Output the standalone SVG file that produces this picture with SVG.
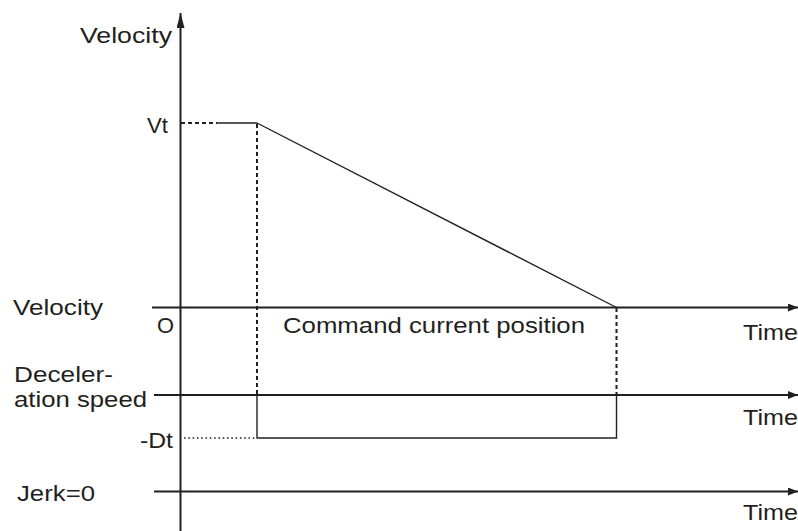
<svg xmlns="http://www.w3.org/2000/svg" width="798" height="531" viewBox="0 0 798 531">
<style>
text{font-family:"Liberation Sans",Arial,sans-serif;font-size:22px;fill:#231f20}
.ax{stroke:#231f20;stroke-width:2;fill:none}
.ln{stroke:#231f20;stroke-width:1.4;fill:none}
.dash{stroke:#231f20;stroke-width:2;fill:none;stroke-dasharray:4 3}
.dot{stroke:#231f20;stroke-width:1.6;fill:none;stroke-dasharray:1.6 2.7}
</style>
<defs>
<marker id="ah" markerWidth="10" markerHeight="8" refX="10" refY="4" orient="auto" markerUnits="userSpaceOnUse">
<path d="M0,0 L10,4 L0,8 Z" fill="#231f20"/>
</marker>
<marker id="ahv" markerWidth="15" markerHeight="8" refX="15" refY="4" orient="auto" markerUnits="userSpaceOnUse">
<path d="M0,0 L15,4 L0,8 Z" fill="#231f20"/>
</marker>
</defs>
<g id="connectors">
<line class="ax" x1="180.5" y1="531" x2="180.5" y2="13" marker-end="url(#ahv)"/>
<line class="ax" x1="152" y1="307.5" x2="798" y2="307.5" marker-end="url(#ah)"/>
<line class="ax" x1="154" y1="395" x2="798" y2="395" marker-end="url(#ah)"/>
<line class="ax" x1="154" y1="491.5" x2="798" y2="491.5" marker-end="url(#ah)"/>
<line class="dash" x1="181" y1="123" x2="217" y2="123"/>
<line class="ln" x1="217" y1="123" x2="257" y2="123"/>
<line class="dash" x1="257" y1="124" x2="257" y2="395"/>
<line class="ln" x1="257" y1="123" x2="616.5" y2="307.5"/>
<line class="dash" x1="616.5" y1="308" x2="616.5" y2="395"/>
<polyline class="ln" points="257,395 257,438 616.5,438 616.5,395"/>
<line class="dot" x1="184" y1="438" x2="256" y2="438"/>
</g>
<g id="labels">
<text x="80" y="43" textLength="92" lengthAdjust="spacingAndGlyphs">Velocity</text>
<text x="147" y="133" textLength="21" lengthAdjust="spacingAndGlyphs">Vt</text>
<text x="13" y="315" textLength="90" lengthAdjust="spacingAndGlyphs">Velocity</text>
<text x="157" y="333" textLength="17" lengthAdjust="spacingAndGlyphs">O</text>
<text x="283" y="333" textLength="302" lengthAdjust="spacingAndGlyphs">Command current position</text>
<text x="743" y="340" textLength="55" lengthAdjust="spacingAndGlyphs">Time</text>
<text x="14" y="382" textLength="99" lengthAdjust="spacingAndGlyphs">Deceler-</text>
<text x="14" y="407" textLength="133" lengthAdjust="spacingAndGlyphs">ation speed</text>
<text x="743" y="425" textLength="55" lengthAdjust="spacingAndGlyphs">Time</text>
<text x="140" y="448" textLength="33" lengthAdjust="spacingAndGlyphs">-Dt</text>
<text x="17" y="501" textLength="78" lengthAdjust="spacingAndGlyphs">Jerk=0</text>
<text x="743" y="520" textLength="55" lengthAdjust="spacingAndGlyphs">Time</text>
</g>
</svg>
